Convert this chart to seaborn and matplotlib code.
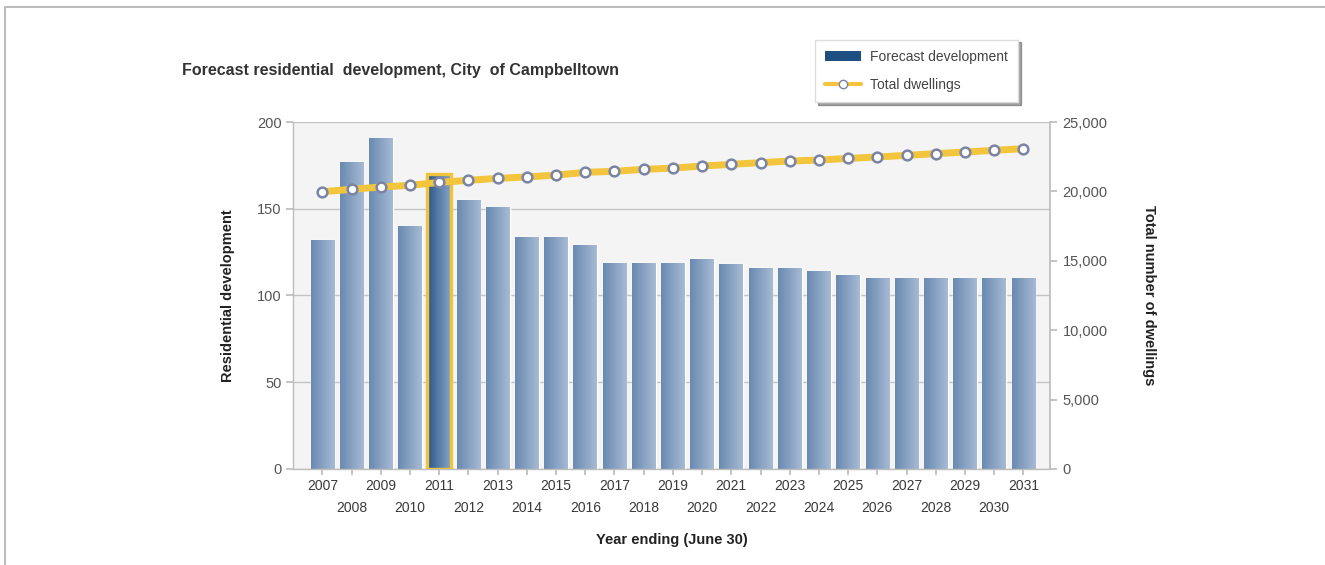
import numpy as np
import pandas as pd
import matplotlib
matplotlib.use("Agg")
import matplotlib.pyplot as plt
from matplotlib.colors import LinearSegmentedColormap
from matplotlib.lines import Line2D
from matplotlib.patches import Patch
import seaborn as sns

years = [str(y) for y in range(2007, 2032)]
development = [132, 177, 191, 140, 170, 155, 151, 134, 134, 129, 119, 119, 119,
               121, 118, 116, 116, 114, 112, 110, 110, 110, 110, 110, 110]
dwellings = [19980, 20150, 20320, 20440, 20650, 20800, 20940, 21040, 21180, 21375,
             21450, 21590, 21680, 21830, 21950, 22070, 22190, 22260, 22380, 22480,
             22600, 22720, 22840, 22960, 23080]
highlight_year = "2011"

df = pd.DataFrame({"year": years, "development": development, "dwellings": dwellings})

sns.set_theme(style="white")
plt.rcParams['font.family'] = ['Liberation Sans', 'DejaVu Sans']

XLIM = (-1.01, len(years) - 1 + 0.91)

fig = plt.figure(figsize=(13.25, 5.65), dpi=100)
ax = fig.add_axes([0.2211, 0.170, 0.5713, 0.614])
ax.set_facecolor("#f4f4f4")

sns.barplot(data=df, x="year", y="development", ax=ax, color="#86a3c3",
            width=0.81, saturation=1, zorder=2)

# gradient fill on bars
cm_norm = LinearSegmentedColormap.from_list("n", ["#6a8ab1", "#a6bad4"])
cm_hi = LinearSegmentedColormap.from_list("h", ["#2b5789", "#86a3c6"])
grad = np.linspace(0, 1, 64).reshape(1, -1)
hi_idx = years.index(highlight_year)
for i, p in enumerate(ax.patches):
    x0, y0 = p.get_x(), p.get_y()
    w, h = p.get_width(), p.get_height()
    cmap = cm_hi if i == hi_idx else cm_norm
    im = ax.imshow(grad, extent=[x0, x0 + w, y0, y0 + h], aspect="auto",
                   cmap=cmap, zorder=2.5, origin="lower")
    im.set_clip_path(p)
    if i == hi_idx:
        p.set_edgecolor("#f0c33c")
        p.set_linewidth(2.4)
        p.set_zorder(2.6)
        p.set_facecolor("none")
ax.set_xlim(*XLIM)
ax.set_ylim(0, 200)

ax.set_yticks([0, 50, 100, 150, 200])
ax.yaxis.grid(True, color="#c4c4c4", linewidth=1.0)
ax.set_axisbelow(True)
for s in ["top", "right"]:
    ax.spines[s].set_visible(False)
for s in ["left", "bottom"]:
    ax.spines[s].set_color("#bdbdbd")
    ax.spines[s].set_linewidth(1.0)

labels = [y if i % 2 == 0 else "\n" + y for i, y in enumerate(years)]
ax.set_xticks(range(len(years)))
ax.set_xticklabels(labels, fontsize=10, color="#3a3a3a", linespacing=1.75)
ax.tick_params(axis="x", length=4, color="#bdbdbd", pad=3, bottom=True)
ax.tick_params(axis="y", length=5, color="#bdbdbd", labelsize=10.5,
               labelcolor="#555555", left=True, pad=3)
ax.set_xlabel("Year ending (June 30)", fontsize=10.5, fontweight="bold",
              color="#222222", labelpad=13)
ax.set_ylabel("Residential development", fontsize=10.5, fontweight="bold",
              color="#222222", labelpad=16)

ax2 = ax.twinx()
sns.lineplot(data=df, x="year", y="dwellings", ax=ax2, color="#f2c53d",
             linewidth=5, marker="o", markersize=7, markerfacecolor="white",
             markeredgecolor="#7a84a6", markeredgewidth=1.8, zorder=5)
ax2.set_ylim(0, 25000)
ax2.set_xlim(*XLIM)
ax2.set_yticks([0, 5000, 10000, 15000, 20000, 25000])
ax2.set_yticklabels(["0", "5,000", "10,000", "15,000", "20,000", "25,000"])
ax2.tick_params(axis="y", length=5, color="#bdbdbd", labelsize=10.5,
                labelcolor="#555555", right=True, pad=4)
ax2.grid(False)
for s in ["top", "left", "bottom"]:
    ax2.spines[s].set_visible(False)
ax2.spines["right"].set_color("#bdbdbd")
ax2.set_ylabel("Total number of dwellings", fontsize=10.5, fontweight="bold",
               color="#222222", rotation=-90, labelpad=35)
ax2.set_xlabel("")

fig.text(0.137, 0.868, "Forecast residential  development, City  of Campbelltown",
         fontsize=11.5, fontweight="bold", color="#333333")

handles = [Patch(facecolor="#1f4f82", edgecolor="none"),
           Line2D([0], [0], color="#f2c53d", linewidth=3, marker="o",
                  markersize=6, markerfacecolor="white", markeredgecolor="#7a84a6")]
leg = fig.legend(handles, ["Forecast development", "Total dwellings"],
                 loc="upper left", bbox_to_anchor=(0.615, 0.93),
                 fontsize=10, frameon=True, fancybox=False, shadow=True,
                 handlelength=2.6, borderpad=0.75, labelspacing=1.0,
                 handletextpad=0.6, borderaxespad=0,
                 edgecolor="#dddddd")
for t in leg.get_texts():
    t.set_color("#444444")

# outer frame lines
fig.add_artist(Line2D([0.004, 1.0], [0.988, 0.988], color="#bcbcbc", linewidth=1.5,
                      transform=fig.transFigure))
fig.add_artist(Line2D([0.004, 0.004], [0.0, 0.988], color="#bcbcbc", linewidth=1.5,
                      transform=fig.transFigure))

fig.savefig("out.png", dpi=100, facecolor="white")
